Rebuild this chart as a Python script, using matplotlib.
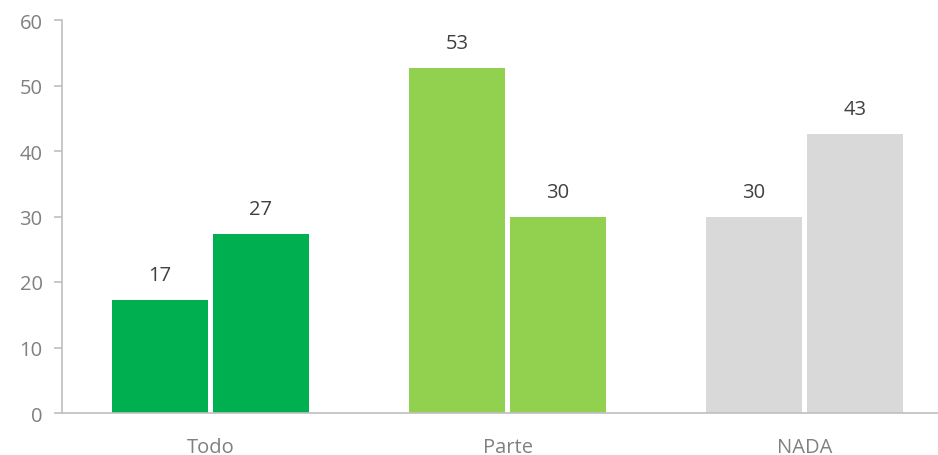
import matplotlib.pyplot as plt
import numpy as np

# dati
categorie = ['Todo', 'Parte', 'NADA']
serie_1 = [17.2, 52.6, 30.0]
serie_2 = [27.3, 30.0, 42.6]
etichette_1 = ['17', '53', '30']
etichette_2 = ['27', '30', '43']
colori = ['#00B050', '#92D050', '#D9D9D9']

plt.rcParams['font.family'] = ['Open Sans', 'DejaVu Sans']

fig = plt.figure(figsize=(9.38, 4.56), dpi=100)
ax = fig.add_axes([62/938, 1 - 414/456, 1 - 62/938, (414 - 21)/456])

x = np.arange(len(categorie))
w = 0.32
off = 0.17
ax.bar(x - off, serie_1, width=w, color=colori)
ax.bar(x + off, serie_2, width=w, color=colori)

for i in range(len(categorie)):
    ax.annotate(etichette_1[i], (x[i] - off, serie_1[i]), xytext=(0, 18),
                textcoords='offset points', ha='center', va='center',
                fontsize=14.5, color='#404040')
    ax.annotate(etichette_2[i], (x[i] + off, serie_2[i]), xytext=(0, 18),
                textcoords='offset points', ha='center', va='center',
                fontsize=14.5, color='#404040')

ax.set_ylim(0, 60)
ax.set_yticks(range(0, 61, 10))
ax.set_xlim(-0.5, (938 - 62)/297 - 0.5)
ax.set_xticks(x)
ax.set_xticklabels(categorie)

for s in ['top', 'right']:
    ax.spines[s].set_visible(False)
ax.spines['left'].set_color('#BFBFBF')
ax.spines['bottom'].set_color('#BFBFBF')
ax.spines['left'].set_linewidth(1.2)
ax.spines['bottom'].set_linewidth(1.2)
ax.tick_params(axis='y', colors='#BFBFBF', labelcolor='#808080', length=6,
               width=1.2, labelsize=14.5, pad=8)
ax.tick_params(axis='x', length=0, labelcolor='#808080', labelsize=14.5, pad=17)

fig.savefig('out.png', dpi=100)
